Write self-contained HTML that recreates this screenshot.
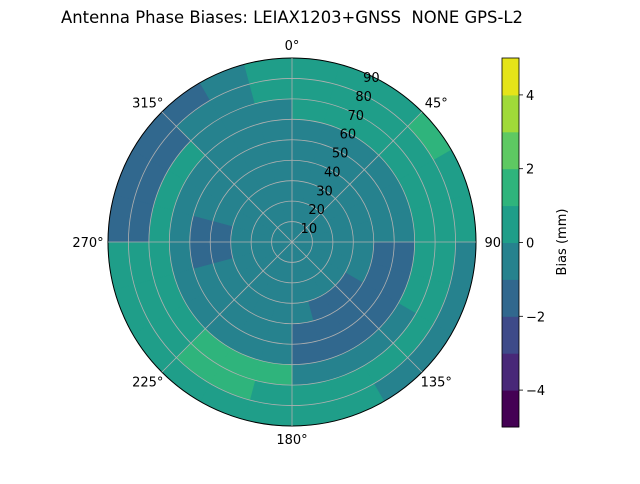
<!DOCTYPE html>
<html><head><meta charset="utf-8"><style>
body{margin:0;background:#fff;width:640px;height:480px;overflow:hidden;font-family:"DejaVu Sans","Liberation Sans",sans-serif}
svg text{font-family:"DejaVu Sans","Liberation Sans",sans-serif;fill:#000;white-space:pre}
</style></head><body>
<svg id="chart" width="640" height="480" viewBox="0 0 640 480">
<text x="292" y="23" font-size="16.4" text-anchor="middle" xml:space="preserve">Antenna Phase Biases: LEIAX1203+GNSS  NONE GPS-L2</text>
<g id="cells"></g>
<g id="grid"></g>
<g id="labels"></g>
<g id="cbar"></g>
</svg>
<script>
const zenithEdges=[0,10,20,30,40,50,60,70,80,90];
const azimuthStep=15;
// values per zenith ring (rows) x azimuth bins 0,15,...,345 (cols)
const ring0=[-0.5,-0.5,-0.5,-0.5,-0.5,-0.5,-0.5,-0.5,-0.5,-0.5,-0.5,-0.5,-0.5,-0.5,-0.5,-0.5,-0.5,-0.5,-0.5,-0.5,-0.5,-0.5,-0.5,-0.5];
const ring1=[-0.5,-0.5,-0.5,-0.5,-0.5,-0.5,-0.5,-0.5,-0.5,-0.5,-0.5,-0.5,-0.5,-0.5,-0.5,-0.5,-0.5,-0.5,-0.5,-0.5,-0.5,-0.5,-0.5,-0.5];
const ring2=[-0.5,-0.5,-0.5,-0.5,-0.5,-0.5,-0.5,-0.5,-0.5,-0.5,-0.5,-0.5,-0.5,-0.5,-0.5,-0.5,-0.5,-0.5,-0.5,-0.5,-0.5,-0.5,-0.5,-0.5];
const ring3=[-0.5,-0.5,-0.5,-0.5,-0.5,-0.5,-0.5,-0.5,-1.1,-1.1,-1.1,-0.5,-0.5,-0.5,-0.5,-0.5,-0.5,-1.2,-1.2,-0.5,-0.5,-0.5,-0.5,-0.5];
const ring4=[-0.5,-0.5,-0.5,-0.5,-0.5,-0.5,-1.3,-1.3,-1.3,-1.3,-1.3,-1.3,-0.5,-0.5,-0.5,-0.5,-0.5,-1.2,-1.2,-0.5,-0.5,-0.5,-0.5,-0.5];
const ring5=[-0.4,-0.4,-0.4,-0.4,-0.4,-0.4,-1.3,-1.3,-1.3,-1.3,-1.3,-1.3,-0.4,-0.4,-0.4,-0.4,-0.4,-0.4,-0.4,-0.4,-0.4,-0.4,-0.4,-0.4];
const ring6=[0.4,0.4,0.4,0.4,0.4,0.4,0.4,0.4,-0.3,-0.3,-0.3,-0.3,1.3,1.3,1.3,0.4,0.4,0.4,0.4,0.4,0.4,-0.3,-0.3,-0.3];
const ring7=[0.4,0.4,0.4,0.4,0.4,0.4,0.4,0.4,0.4,0.4,0.4,0.4,0.4,1.3,1.3,0.4,0.4,0.4,-1.2,-1.2,-1.2,-0.3,-0.3,0.4];
const ring8=[0.5,0.5,0.5,1.2,0.5,0.5,-0.3,-0.3,-0.3,-0.3,0.5,0.5,0.5,0.5,0.5,0.5,0.5,0.5,-1.2,-1.2,-1.2,-1.1,-0.3,0.5];
const rings=[ring0,ring1,ring2,ring3,ring4,ring5,ring6,ring7,ring8];
const levels=[-5,-4,-3,-2,-1,0,1,2,3,4,5];
const bandColors=["#440154","#482878","#3e4a89","#31688e","#26828e","#1f9e89","#2fb47c","#5ec962","#a0da39","#e5e419"];
const rTicks=[10,20,30,40,50,60,70,80,90];
const thetaTicks=[0,45,90,135,180,225,270,315];
const cbarTicks=[-4,-2,0,2,4];

const NS="http://www.w3.org/2000/svg";
const cx=292,cy=242,R=184;
const rScale=z=>z/90*R;
function pt(az,z){const a=az*Math.PI/180;return [cx+rScale(z)*Math.sin(a),cy-rScale(z)*Math.cos(a)];}
function colorFor(v){for(let i=0;i<levels.length-1;i++){if(v<levels[i+1])return bandColors[i];}return bandColors[bandColors.length-1];}
function mk(tag,attrs,parent){const e=document.createElementNS(NS,tag);for(const k in attrs)e.setAttribute(k,attrs[k]);parent.appendChild(e);return e;}

const cells=document.getElementById('cells');
rings.forEach((row,ri)=>{
  row.forEach((v,ai)=>{
    const a0=ai*azimuthStep,a1=a0+azimuthStep,z0=zenithEdges[ri],z1=zenithEdges[ri+1];
    const p1=pt(a0,z1),p2=pt(a1,z1),p3=pt(a1,z0),p4=pt(a0,z0);
    const r1=rScale(z1),r0=rScale(z0);
    let d=`M${p1[0]},${p1[1]} A${r1},${r1} 0 0 1 ${p2[0]},${p2[1]} L${p3[0]},${p3[1]}`;
    d+= r0>0?` A${r0},${r0} 0 0 0 ${p4[0]},${p4[1]} Z`:' Z';
    const c=colorFor(v);
    const p=mk('path',{d:d,fill:c,stroke:c,'stroke-width':0.6},cells);
    
    
  });
});

const grid=document.getElementById('grid');
rTicks.forEach(t=>{
  const c=mk('circle',{cx:cx,cy:cy,r:rScale(t),fill:'none',stroke:t===90?'#000':'#b0b0b0','stroke-width':t===90?1:0.8},grid);
  
  
});
thetaTicks.forEach(t=>{
  const p=pt(t,90);
  const l=mk('line',{x1:cx,y1:cy,x2:p[0],y2:p[1],stroke:'#b0b0b0','stroke-width':0.8},grid);
  
  
});

const labels=document.getElementById('labels');
thetaTicks.forEach(t=>{
  const a=t*Math.PI/180;
  const x=cx+(R+20)*Math.sin(a),y=cy-(R+13)*Math.cos(a)+5;
  const tx=mk('text',{x:x,y:y,'font-size':13,'text-anchor':'middle'},labels);
  tx.textContent=t+'°';
  
  
});
rTicks.forEach(t=>{
  const p=pt(22.5,t);
  const tx=mk('text',{x:p[0]+9,y:p[1]+10,'font-size':13,'text-anchor':'middle'},labels);
  tx.textContent=t;
  
  
});

const cbar=document.getElementById('cbar');
const cbX=502,cbW=17,cbTop=58,cbBot=427;
const cbY=v=>cbBot-(v-levels[0])/(levels[levels.length-1]-levels[0])*(cbBot-cbTop);
bandColors.forEach((c,i)=>{
  const r=mk('rect',{x:cbX,y:cbY(levels[i+1]),width:cbW,height:cbY(levels[i])-cbY(levels[i+1])+0.5,fill:c},cbar);
  
  
});
mk('rect',{x:cbX,y:cbTop,width:cbW,height:cbBot-cbTop,fill:'none',stroke:'#000','stroke-width':0.8},cbar);
cbarTicks.forEach(t=>{
  const y=cbY(t);
  mk('line',{x1:cbX+cbW,y1:y,x2:cbX+cbW+4,y2:y,stroke:'#000','stroke-width':0.8},cbar);
  const tx=mk('text',{x:cbX+cbW+7,y:y+5,'font-size':13},cbar);
  tx.textContent=t<0?'\u2212'+Math.abs(t):String(t);
  
  
});
const lab=mk('text',{x:566,y:242,'font-size':13,'text-anchor':'middle',transform:'rotate(-90 566 242)'},cbar);
lab.textContent='Bias (mm)';


</script>
</body></html>
